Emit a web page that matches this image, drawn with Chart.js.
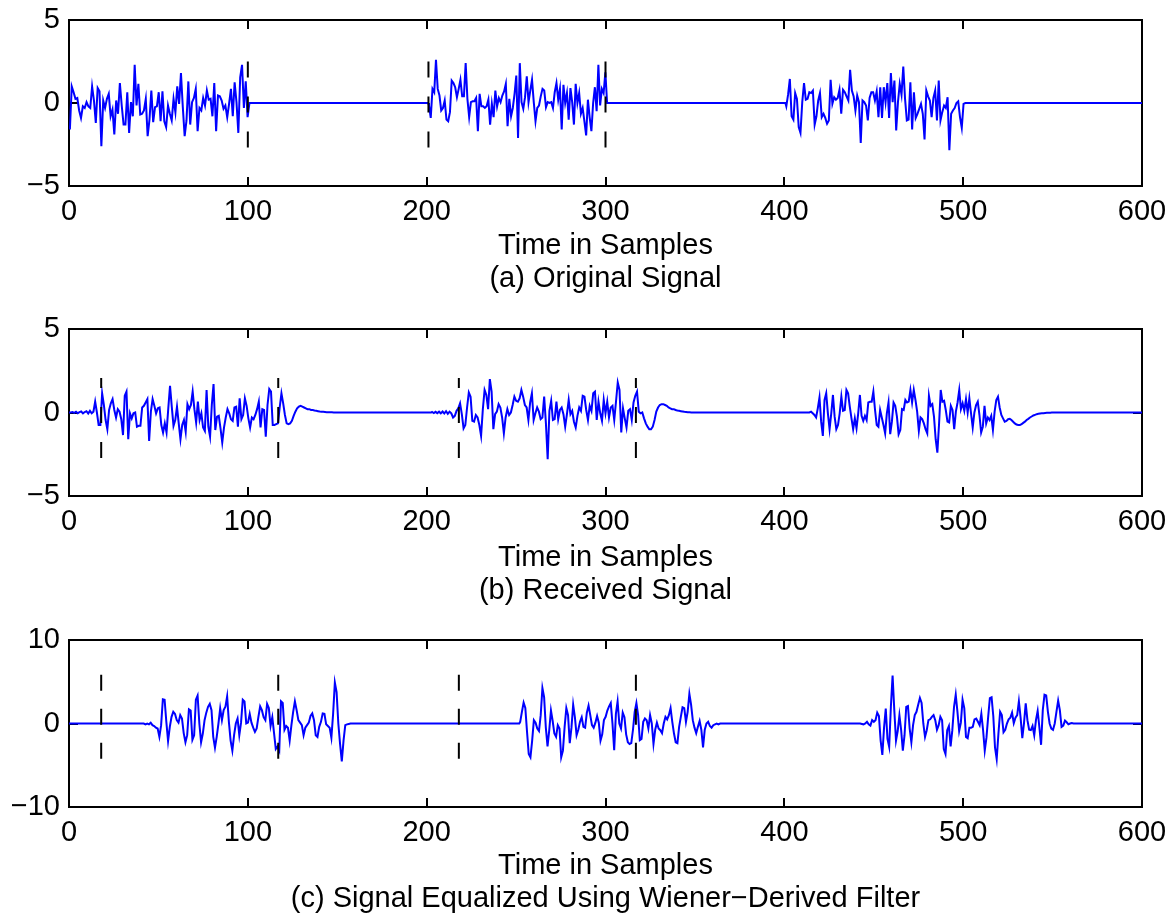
<!DOCTYPE html>
<html>
<head>
<meta charset="utf-8">
<script src="https://cdn.jsdelivr.net/npm/chart.js@4.4.0/dist/chart.umd.min.js"></script>
<style>
  body { margin: 0; background: #fff; }
  .panel { position: absolute; left: 0; }
</style>
</head>
<body>
<div class="panel" style="top:0px"><canvas id="chartA" width="1175" height="295"></canvas></div>
<div class="panel" style="top:300px"><canvas id="chartB" width="1175" height="307"></canvas></div>
<div class="panel" style="top:610px"><canvas id="chartC" width="1175" height="305"></canvas></div>
<script>
// --- axes / labels ---
const xTicks = [0, 100, 200, 300, 400, 500, 600];
const yTicksAB = [-5, 0, 5];
const yTicksC = [-10, 0, 10];
const xLabel = 'Time in Samples';
const captions = ['(a) Original Signal', '(b) Received Signal', '(c) Signal Equalized Using Wiener\u2212Derived Filter'];

// --- (a) original signal: three bursts ---
const origStart = [0.5, 201.3, 401.1];
const origEnd = [100.9, 300.9, 501.2];
const origSeg1 = [-1.6,1.0,0.65,0.25,0.3,-0.45,-0.9,-0.2,-0.3,0.05,-0.2,-0.3,1.0,0.15,-1.2,0.9,0.7,-2.6,0.15,-0.3,0.25,0.55,-0.8,-0.4,-1.9,0.15,-0.65,1.2,-0.15,-1.3,-1.3,0.65,-1.8,0.05,-0.8,2.3,-0.15,1.15,-0.7,-0.65,-0.45,0.25,-2.0,-1.0,0.75,-1.15,-0.25,-0.2,0.65,-1.1,0.7,-1.1,-1.45,-0.15,-0.65,-1.05,0.25,-0.55,1.0,-0.05,1.8,-0.25,-2.0,-1.05,1.3,-1.3,0.05,0.3,0.85,-1.7,-0.3,-0.45,0.3,-0.15,0.75,0.2,0.25,-0.8,1.2,-1.7,0.45,0.4,0.15,-0.35,-0.15,-0.85,-0.05,0.85,-0.8,1.25,0.05,-1.8,1.55,2.3,-0.3,1.3,-0.85,0];
const origSeg2 = [-0.15,-0.9,0.85,0.65,2.6,0.85,0.45,-0.45,-0.3,0.15,-1.0,-1.1,-0.55,1.35,1.2,0.95,0.35,0.85,1.4,0.4,0.4,2.4,0.25,-0.85,0.05,0.1,0.1,0.3,-1.7,0.55,-0.2,-0.2,-0.3,-0.2,0.2,-1.3,-0.05,-0.85,0.75,-0.2,0.3,0.05,0.45,0.7,1.15,-1.4,0.25,-0.8,-0.3,0.55,1.65,-2.1,2.4,0.05,-0.35,0.35,1.6,0.05,0.75,1.4,0.05,-1.1,-0.3,-0.15,0.4,0.85,0.75,-0.25,0.05,0,0.05,-0.3,0.65,1.2,0.2,0.85,-1.6,1.1,0,0.6,-1.0,0.9,0.05,-1.3,1.15,0,0.6,-0.65,-0.3,-1.1,-1.95,0.2,-0.85,-1.7,0,0.95,-0.5,2.3,-0.15,0.85,0.6,1.85,0];
const origSeg3 = [-0.2,0.5,1.45,-0.8,-1.0,0.6,0.25,-1.45,-1.8,0.05,1.2,0.2,0.25,0.65,0.6,0.75,-1.3,-0.8,0.15,0.6,-0.85,-0.65,-0.9,-1.25,-1.05,1.4,-0.05,0.35,0.2,0.3,0.8,-0.65,0.8,0.65,0.4,0.15,2.0,0.75,0.4,-0.45,0.45,0.05,-2.4,0.15,0.05,-0.15,-1.05,0.3,0.65,0.65,0.15,0.7,-0.85,0.95,-0.9,0.95,0.05,1.2,-0.9,1.8,0.05,1.35,-1.65,0.05,1.15,0.5,2.2,0.25,-1.05,-1.0,1.25,-1.6,0.65,-0.9,-0.65,-0.35,-0.05,-0.65,-2.2,0.75,0.4,0.15,-0.85,0.3,0.75,-1.05,1.35,-1.05,-0.55,-0.15,-0.3,0.35,-2.85,-0.65,-0.45,-0.3,0,0.1,-0.85,-1.5,-0.05,0];

// --- (b) received signal ---
const recvStart = [1, 203, 414];
const recvEnd = [148, 348, 549.6];
const recvSeg1 = [0,0.03,-0.02,0.05,-0.04,0.02,0.06,-0.05,0.03,0.08,-0.06,0.1,-0.05,0.05,
  0.65,0,-0.75,-0.75,1.15,0.45,-0.45,-1.0,0.15,0.55,0.8,0.15,-0.3,0.2,0.05,-0.4,-1.35,1.0,1.25,-1.6,-0.05,-0.35,-0.05,0,-0.85,-0.8,-0.8,0.3,0.4,0.6,0.8,-1.7,0.05,0.8,0.4,-0.05,0.25,0.3,-0.75,-1.2,-0.65,-1.2,0.25,1.6,0.35,-0.8,-0.45,0.35,-0.65,-1.6,-0.75,-0.45,-1.15,0.5,0.2,0.45,1.25,0.2,-0.6,0.65,-0.45,-0.05,-0.9,-1.1,1.35,-0.85,-1.45,0.45,1.7,-1.05,-0.25,-0.2,-0.95,-1.8,-0.9,-0.3,0.2,-0.05,-0.4,-0.5,0.3,0.35,-0.85,0.85,-0.4,-0.15,0.85,0.4,-0.35,-0.9,-0.3,-0.4,-0.15,0.2,0.65,-0.9,0.2,0.15,-1.45,0.45,1.4,1.25,-0.75,-0.75,-0.7,-0.65,0.3,
  1.15,0.55,-0.15,-0.65,-0.7,-0.65,-0.5,-0.2,0.05,0.25,0.35,0.4,0.35,0.3,0.25,0.2,0.2,0.15,0.15,0.12,0.1,0.08,0.06,
  0.05,0.04,0.03,0.02,0.02,0.01,0.01,0];
const recvSeg2 = [0.03,-0.03,0.04,-0.04,0.05,-0.05,0.06,-0.06,0.08,-0.08,0.05,
  -0.05,-0.3,-0.2,0.1,0.25,0.55,-0.1,-0.95,-0.75,0.3,1.2,0.95,-0.5,-0.55,-0.15,-0.3,-0.75,-1.4,0.2,1.35,1.05,0.2,2.0,1.25,-1.0,-0.1,0.05,0.5,0.3,-0.3,-1.25,-0.3,0.2,-0.15,0,0.45,0.95,0.7,0.65,0.85,1.35,0.95,0.45,0.3,-0.45,0.6,1.15,-0.45,-0.05,0.3,0.05,-0.4,-0.3,0.95,-0.65,-2.8,0.1,0.7,-0.45,-0.4,0.65,-0.4,0.15,0.3,-0.1,-0.85,-0.1,0.75,-0.1,0.1,-0.55,-0.9,-0.2,0.3,0.1,1.0,0.95,0.15,-0.45,0.4,0.1,1.15,1.25,-0.45,0.65,-0.05,-0.5,0.75,-0.05,0.65,-0.3,0.3,0.4,-0.45,0.65,1.8,1.35,-1.2,0.25,-0.35,-0.9,0.1,0.2,-0.45,0.6,1.0,1.25,0.05,
  -0.05,0,-0.35,-0.65,-0.85,-1.0,-1.0,-0.85,-0.45,0.05,0.3,0.45,0.5,0.5,0.45,0.4,0.3,0.25,0.2,0.2,
  0.15,0.12,0.1,0.08,0.06,0.04,0.03,0.02,0.01,0];
const recvSeg3 = [0,0.05,-0.05,-0.15,-0.3,0.25,0.9,-0.55,-1.4,0.75,1.15,-0.05,-1.0,-0.05,1.05,-0.25,-1.0,-0.75,-0.05,0.95,0.1,0.15,1.35,1.15,0.35,-0.35,-1.0,-0.35,-0.95,-0.05,1.05,-0.2,-0.5,-0.2,-0.45,0.6,0.65,0.65,1.25,0.15,-0.75,-0.85,0.15,-0.3,-0.75,-1.25,-0.05,0.6,-1.3,-0.55,0.6,0.4,-0.25,-1.3,-1.05,0.2,0.15,0.75,0.6,0.65,1.35,0.6,1.35,0.75,0.05,-1.1,-0.3,-0.4,-0.65,-1.0,-1.25,1.0,0.4,0.5,-0.25,-1.6,-2.4,-0.7,1.35,0.65,0.7,0.15,-0.55,-0.6,0.4,0.15,-1.0,0.05,0.6,1.35,0.2,0.55,0.1,0.8,0,0.85,-0.05,-0.9,0,0.45,0.65,-0.15,-1.2,-0.85,0.4,-0.65,-0.3,-0.45,-0.2,-1.05,0.05,0.75,0.95,0.3,-0.15,
  -0.35,-0.55,-0.5,-0.4,-0.38,-0.45,-0.55,-0.65,-0.72,-0.75,-0.75,-0.7,-0.62,-0.55,-0.45,-0.38,-0.3,-0.24,-0.18,-0.14,-0.1,-0.08,-0.06,-0.05,-0.04,-0.03,-0.02,-0.02,-0.01,0];

// --- (c) equalized signal ---
const eqStart = [41.8, 252.3, 442.4];
const eqEnd = [157.4, 364.1, 561.7];
const eqSeg1 = [0,-0.1,0,-0.1,0.1,-0.2,-0.3,-0.5,-0.6,-1.6,-0.2,2.9,2.85,0.2,-2.1,-0.4,0.8,1.4,1.15,0.4,0.1,1.0,0.6,-1.15,-2.25,-1.4,1.7,1.55,-1.95,-1.4,2.85,3.35,0,-2.25,-1.2,0.4,1.3,2.0,2.35,1.6,-1.6,-2.9,-1.6,0,1.8,0.4,1.6,2.0,3.25,0.2,-2.05,-3.25,-1.4,0,0.6,-1.4,0.1,2.85,2.65,0,0.1,1.15,0.1,-0.5,-1.0,-0.6,0.8,2.05,1.6,0.75,0.4,2.35,1.85,-0.3,0.75,-1.15,-3.05,-2.75,-3.25,2.65,2.45,-0.75,-0.3,-0.5,-2.05,-0.2,1.4,2.65,1.6,0.4,0.1,-0.2,-1.4,-0.5,-0.2,0.1,0.9,1.2,0.4,-1.4,-1.6,-0.4,0.2,1.2,1.15,-0.1,-0.3,-0.5,-1.7,1.15,4.9,3.75,0,-2.45,-4.55,-2.05,-0.2,-0.1,-0.05,0];
const eqSeg2 = [0.2,1.4,2.5,1.85,-1.0,-3.65,-4.05,-2.05,0.4,0.1,-0.6,-0.9,1.0,4.25,3.15,-0.5,-2.75,-0.8,1.55,0.3,-1.2,-1.6,-0.2,-0.6,-4.05,-3.25,-0.4,1.85,1.0,-2.35,-0.5,2.25,0.75,-1.4,-0.75,0.2,0.75,-0.4,-0.5,1.3,2.15,1.0,-0.2,-0.5,0.1,0.9,0.1,-2.05,-1.3,0.4,0.8,1.55,2.05,2.45,0,-3.2,1.15,2.65,0,-0.6,1.3,0.75,-1.3,-2.25,-2.45,-2.35,-0.75,1.4,2.45,1.0,-2.0,-1.85,0.2,0.6,0.4,-0.6,1.0,0,-2.45,-0.75,0.1,-0.6,-0.8,-1.15,0,0.8,0.5,1.0,1.85,0.2,-1.2,-2.25,-2.35,-0.4,0.8,1.95,1.85,0.2,1.4,3.55,2.25,0.4,-0.5,-1.15,-0.4,0.3,-0.75,-2.85,-0.75,0,0.2,-0.3,-0.5,-0.2,-0.1,0,-0.1,0];
const eqSeg3 = [0,-0.05,-0.1,0,0.2,-0.1,-0.25,0.4,0.2,0.4,1.3,0.9,-2.05,-3.75,-0.5,1.8,-1.85,-2.8,2.0,5.75,1.6,-2.05,-0.9,1.0,-0.75,-3.25,-1.4,2.0,2.1,-0.6,-2.25,-0.2,1.0,1.4,2.25,3.05,2.45,0,-1.6,-0.8,0.4,0.5,0.8,1.0,0.4,-0.75,-0.2,0.8,0.4,-3.05,-3.65,-0.8,-0.3,-2.75,-0.8,2.0,3.45,1.4,-0.9,0.1,2.85,1.85,-1.6,-1.75,-0.5,-0.5,-0.4,0.5,0.6,0.2,-0.2,1.15,-0.75,-3.25,-1.7,0.8,3.05,3.15,0.9,-2.85,-4.25,-1.25,1.4,1.0,-1.05,-0.75,0,0.5,0.7,1.3,0.05,0.7,1.0,2.65,0.7,-1.75,0.05,2.4,0.4,-0.75,-0.8,-0.3,-1.4,0.4,1.5,-0.45,-2.55,1.6,3.45,3.35,1.4,0,-0.6,-0.75,0,1.4,2.75,1.6,-0.4,-0.25,0.35,0.15,-0.1,0,0.05,0];

// --- dashed block markers (sample position, top/bottom value) ---
const markA = [100, 201, 300];
const markARange = [2.5, -2.75];
const markB = [18, 117, 218, 317];
const markBRange = [2.06, -2.8];
const markC = [18, 117, 218, 317];
const markCRange = [5.85, -4.4];

Chart.defaults.font.family = "'Liberation Sans', Arial, Helvetica, sans-serif";
Chart.defaults.font.size = 29;
Chart.defaults.color = '#000';

function toPoints(starts, ends, segs) {
    const pts = [];
    segs.forEach((vals, k) => {
        const step = (ends[k] - starts[k]) / (vals.length - 1);
        if (starts[k] > 0.5) pts.push({x: k === 0 ? 0 : starts[k] - 0.5, y: 0});
        vals.forEach((v, i) => pts.push({x: starts[k] + i * step, y: v}));
        pts.push({x: ends[k] + 0.5, y: 0});
    });
    pts.push({x: 600, y: 0});
    return pts;
}

function markLines(xs, range, dash, offset) {
    return xs.map(x => ({
        data: [{x: x, y: range[0]}, {x: x, y: range[1]}],
        borderColor: '#000',
        borderWidth: 2,
        borderDash: dash,
        borderDashOffset: offset,
        pointRadius: 0
    }));
}

const fmt = v => (v < 0 ? '\u2212' + (-v) : '' + v);

// drop the label overflow padding so the plot box sits exactly where the layout says
function noEdgePad(s) {
    s.paddingTop = 0; s.paddingBottom = 0;
    s.paddingLeft = 0; s.paddingRight = 0;
}

function drawPanel(id, signal, marks, yTicks, caption, padTop, xAxisH) {
    const tickGrid = { drawOnChartArea: false, drawTicks: true, tickLength: -9, color: '#000', lineWidth: 2 };
    const edge = { display: true, color: '#000', width: 2 };
    const setX = s => { s.ticks = xTicks.map(v => ({value: v})); };
    const setY = s => { s.ticks = yTicks.map(v => ({value: v})); };
    const yMin = yTicks[0], yMax = yTicks[yTicks.length - 1];

    new Chart(document.getElementById(id), {
        type: 'line',
        data: {
            datasets: [...marks, {
                data: signal,
                borderColor: '#0000ff',
                borderWidth: 2,
                pointRadius: 0
            }]
        },
        options: {
            responsive: false,
            animation: false,
            events: [],
            layout: { padding: { top: padTop, right: 33, bottom: 0, left: 0 } },
            plugins: { legend: { display: false }, tooltip: { enabled: false } },
            scales: {
                x: {
                    type: 'linear', position: 'bottom', min: 0, max: 600,
                    afterBuildTicks: setX,
                    afterFit: s => { s.height = xAxisH; noEdgePad(s); },
                    grid: tickGrid, border: edge,
                    ticks: { padding: 18, maxRotation: 0, callback: fmt },
                    title: {
                        display: true, text: [xLabel, caption],
                        font: { size: 29, lineHeight: 33 / 29 },
                        padding: { top: 0, bottom: 0 }
                    }
                },
                x2: {
                    type: 'linear', position: 'top', min: 0, max: 600,
                    afterBuildTicks: setX,
                    afterFit: s => { s.height = 0; noEdgePad(s); },
                    grid: tickGrid, border: edge,
                    ticks: { display: false }
                },
                y: {
                    type: 'linear', position: 'left', min: yMin, max: yMax,
                    afterBuildTicks: setY,
                    afterFit: s => { s.width = 69; noEdgePad(s); },
                    grid: tickGrid, border: edge,
                    ticks: { padding: 18, callback: fmt }
                },
                y2: {
                    type: 'linear', position: 'right', min: yMin, max: yMax,
                    afterBuildTicks: setY,
                    afterFit: s => { s.width = 0; noEdgePad(s); },
                    grid: tickGrid, border: edge,
                    ticks: { display: false }
                }
            }
        }
    });
}

drawPanel('chartA', toPoints(origStart, origEnd, [origSeg1, origSeg2, origSeg3]),
    markLines(markA, markARange, [16, 19], 0), yTicksAB, captions[0], 20, 109);
drawPanel('chartB', toPoints(recvStart, recvEnd, [recvSeg1, recvSeg2, recvSeg3]),
    markLines(markB, markBRange, [16, 19], 6), yTicksAB, captions[1], 29, 111);
drawPanel('chartC', toPoints(eqStart, eqEnd, [eqSeg1, eqSeg2, eqSeg3]),
    markLines(markC, markCRange, [16, 18], 0), yTicksC, captions[2], 30, 108);
</script>
</body>
</html>
